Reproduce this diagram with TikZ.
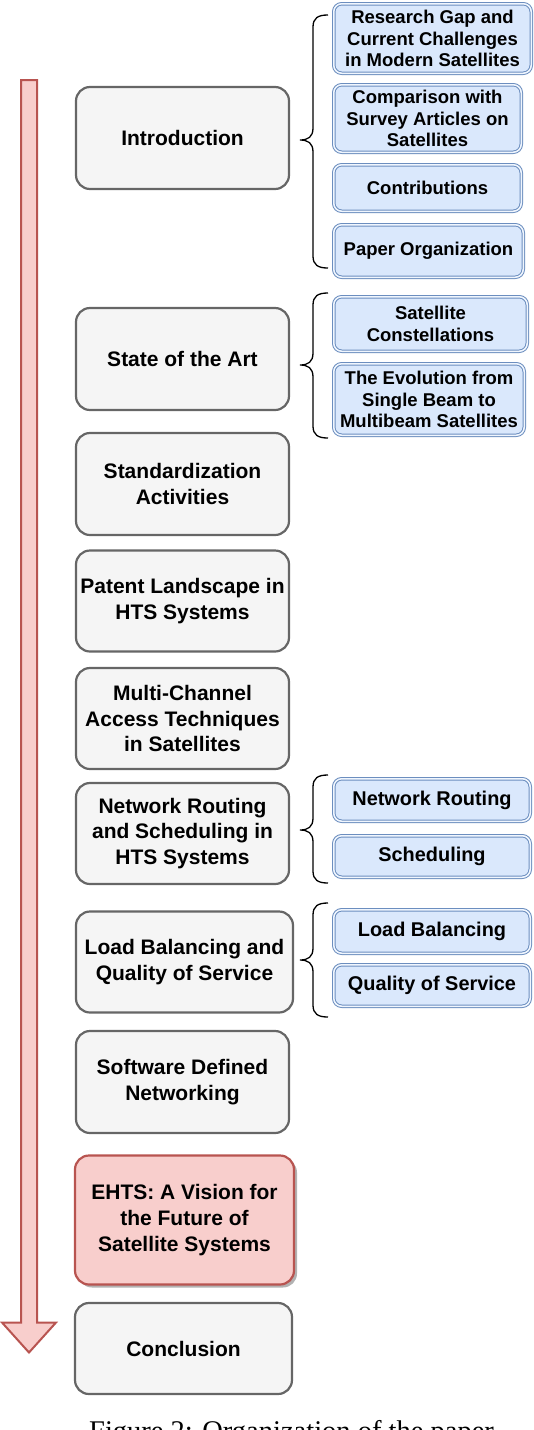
\documentclass[tikz,border=0pt]{standalone}
\usepackage{fontspec}
\setmainfont{Liberation Sans}
\newfontfamily\capfont{Liberation Serif}
\usetikzlibrary{shadows}
\definecolor{mainfill}{HTML}{F5F5F5}
\definecolor{mainline}{HTML}{666666}
\definecolor{bluefill}{HTML}{DAE8FC}
\definecolor{blueline}{HTML}{6C8EBF}
\definecolor{redfill}{HTML}{F8CECC}
\definecolor{redline}{HTML}{B85450}
\newcommand\mybrace[3]{%
  \draw[bracestyle] (328,#1) .. controls (318,#1) and (313,#1+3) .. (313,#1+12)
    -- (313,#2-12) .. controls (313,#2-3) and (308,#2) .. (300,#2)
    .. controls (308,#2) and (313,#2+3) .. (313,#2+12)
    -- (313,#3-12) .. controls (313,#3-3) and (318,#3) .. (328,#3);}
\begin{document}
\begin{tikzpicture}[x=1pt,y=-1pt,
  mainbox/.style={draw=mainline, fill=mainfill, line width=2.2pt, rounded corners=14pt,
    align=center, inner sep=0pt, font=\bfseries\fontsize{21}{25.6}\selectfont},
  redbox/.style={mainbox, draw=redline, fill=redfill,
    drop shadow={shadow xshift=3pt, shadow yshift=-3pt, fill=black!30, opacity=1}},
  subbox/.style={draw=blueline, double=bluefill!40!white, double distance=1.5pt,
    line width=1pt, fill=bluefill, rounded corners=8pt, align=center, inner sep=0pt,
    font=\bfseries\fontsize{18.5}{21.5}\selectfont},
  subboxb/.style={subbox, font=\bfseries\fontsize{19.9}{23}\selectfont},
  bracestyle/.style={draw=black, line width=1.3pt},
  arrowstyle/.style={draw=redline, fill=redfill, line width=2pt, line join=miter}]
\useasboundingbox (0,0) rectangle (534,1430);
% big arrow
\draw[arrowstyle] (21,80) -- (37,80) -- (37,1322.5) -- (56,1322.5) -- (29,1352.5)
  -- (2,1322.5) -- (21,1322.5) -- cycle;
% main boxes
\node[mainbox, minimum width=213pt, minimum height=102pt] (intro) at (182.5,138) {Introduction};
\node[mainbox, minimum width=213pt, minimum height=102pt] (sota) at (182.5,359) {State of the Art};
\node[mainbox, minimum width=213pt, minimum height=102pt] (std) at (182.5,484) {Standardization\\Activities};
\node[mainbox, minimum width=213pt, minimum height=101pt] (pat) at (182.5,601) {Patent Landscape in\\HTS Systems};
\node[mainbox, minimum width=213pt, minimum height=101pt] (mca) at (182.5,718.5) {Multi-Channel\\Access Techniques\\in Satellites};
\node[mainbox, minimum width=213pt, minimum height=101pt] (nrs) at (182.5,833.5) {Network Routing\\and Scheduling in\\HTS Systems};
\node[mainbox, minimum width=217pt, minimum height=101pt] (lbq) at (184.5,962) {Load Balancing and\\Quality of Service};
\node[mainbox, minimum width=213pt, minimum height=102pt] (sdn) at (182.5,1082) {Software Defined\\Networking};
\node[redbox, minimum width=219pt, minimum height=129pt] (ehts) at (184.5,1220) {EHTS: A Vision for\\the Future of\\Satellite Systems};
\node[mainbox, minimum width=217pt, minimum height=91pt] (concl) at (183.5,1348.5) {Conclusion};
% sub boxes
\node[subbox, minimum width=197.5pt, minimum height=69.5pt] (rg) at (432.5,38.5) {Research Gap and\\Current Challenges\\in Modern Satellites};
\node[subbox, minimum width=187.5pt, minimum height=67.5pt] (cmp) at (427.5,118.5) {Comparison with\\Survey Articles on\\Satellites};
\node[subbox, minimum width=187.5pt, minimum height=46.5pt] (contr) at (427.5,188) {Contributions};
\node[subbox, minimum width=189.5pt, minimum height=52.5pt] (po) at (428.5,251) {Paper Organization};
\node[subbox, minimum width=193.5pt, minimum height=54.5pt] (sc) at (430.5,324) {Satellite\\Constellations};
\node[subbox, minimum width=190.5pt, minimum height=71.5pt] (evo) at (429,399.5) {The Evolution from\\Single Beam to\\Multibeam Satellites};
\node[subboxb, minimum width=196.5pt, minimum height=42.5pt] (nr) at (432,800) {Network Routing};
\node[subboxb, minimum width=196.5pt, minimum height=41.5pt] (sch) at (432,856.5) {Scheduling};
\node[subboxb, minimum width=196.5pt, minimum height=43.5pt] (lb) at (432,931.5) {Load Balancing};
\node[subboxb, minimum width=196.5pt, minimum height=41.5pt] (qos) at (432,985.5) {Quality of Service};
% braces
\mybrace{15}{140}{268}
\mybrace{293}{365}{438}
\mybrace{775}{830}{883}
\mybrace{903}{960}{1017}
% caption (cut off by the page edge, as in the reference)
\node[anchor=base west, inner sep=0pt, font=\capfont\fontsize{28.5}{30}\selectfont] (cap) at (89,1440) {Figure 2: Organization of the paper.};
\end{tikzpicture}
\end{document}
